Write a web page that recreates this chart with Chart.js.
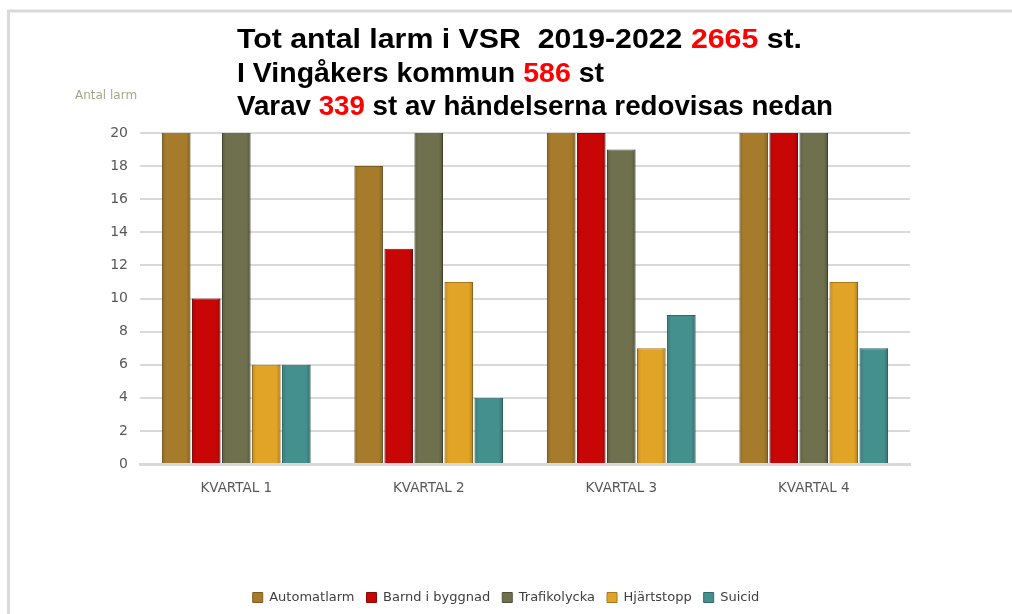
<!DOCTYPE html>
<html>
<head>
<meta charset="utf-8">
<script src="https://cdn.jsdelivr.net/npm/chart.js@4"></script>
<style>
  body { margin: 0; background: #fff; }
  #wrap { width: 1012px; height: 614px; }
</style>
</head>
<body>
<div id="wrap"><canvas id="larmChart"></canvas></div>
<script>
// Kvartal och serier (staplar över 20 är avklippta i originalet, värdena uppskattade)
const kvartal = ['KVARTAL 1', 'KVARTAL 2', 'KVARTAL 3', 'KVARTAL 4'];
const automatlarm = [30, 18, 27, 31];
const brand = [10, 13, 20, 28];
const trafikolycka = [26, 28, 19, 28];
const hjartstopp = [6, 11, 7, 11];
const suicid = [6, 4, 9, 7];
const yTicks = [0, 2, 4, 6, 8, 10, 12, 14, 16, 18, 20];

const titleLines = [
  [['Tot antal larm i VSR  2019-2022 ', '#000'], ['2665', '#ff0000'], [' st.', '#000']],
  [['I Vingåkers kommun ', '#000'], ['586', '#ff0000'], [' st', '#000']],
  [['Varav ', '#000'], ['339', '#ff0000'], [' st av händelserna redovisas nedan', '#000']]
];

const frameAndTitle = {
  id: 'frameAndTitle',
  beforeDraw(chart) {
    const c = chart.ctx;
    c.save();
    c.strokeStyle = '#d9d9d9';
    c.lineWidth = 3;
    c.beginPath();
    c.moveTo(8.5, 614);
    c.lineTo(8.5, 11);
    c.lineTo(1012, 11);
    c.stroke();
    c.restore();
  },
  afterDraw(chart) {
    const c = chart.ctx;
    c.save();
    c.font = "bold 27px 'Liberation Sans', Arial, sans-serif";
    c.textBaseline = 'alphabetic';
    // radbredder i originalet
    const widths = [565, 367, 596];
    const baselines = [48, 82, 115];
    titleLines.forEach((parts, i) => {
      const full = parts.map(p => p[0]).join('');
      const sx = widths[i] / c.measureText(full).width;
      let x = 0;
      c.save();
      c.translate(237, baselines[i]);
      c.scale(sx, 1);
      parts.forEach(([txt, col]) => {
        c.fillStyle = col;
        c.fillText(txt, x, 0);
        x += c.measureText(txt).width;
      });
      c.restore();
    });
    c.font = "12px 'DejaVu Sans', sans-serif";
    c.fillStyle = '#a6a88b';
    c.fillText('Antal larm', 75, 99);
    c.restore();
  },
  afterDatasetsDraw(chart) {
    // lite skuggning på staplarna
    const c = chart.ctx;
    const area = chart.chartArea;
    c.save();
    c.beginPath();
    c.rect(area.left, area.top, area.right - area.left, area.bottom - area.top);
    c.clip();
    chart.data.datasets.forEach((ds, i) => {
      chart.getDatasetMeta(i).data.forEach(bar => {
        const l = bar.x - bar.width / 2;
        const g = c.createLinearGradient(l, 0, l + bar.width, 0);
        g.addColorStop(0, 'rgba(0,0,0,0.15)');
        g.addColorStop(0.15, 'rgba(0,0,0,0)');
        g.addColorStop(0.85, 'rgba(0,0,0,0)');
        g.addColorStop(1, 'rgba(0,0,0,0.22)');
        c.fillStyle = g;
        c.fillRect(l, bar.y, bar.width, bar.base - bar.y);
      });
    });
    c.restore();
  }
};

function serie(label, data, color, border) {
  return {
    label: label,
    data: data,
    backgroundColor: color,
    borderColor: border,
    borderWidth: 1,
    categoryPercentage: 0.78,
    barPercentage: 0.95
  };
}

const ctx = document.getElementById('larmChart').getContext('2d');
new Chart(ctx, {
  type: 'bar',
  data: {
    labels: kvartal,
    datasets: [
      serie('Automatlarm', automatlarm, '#a67c2c', '#7d5e20'),
      serie('Barnd i byggnad', brand, '#c80606', '#8e0606'),
      serie('Trafikolycka', trafikolycka, '#6e704e', '#4f5038'),
      serie('Hjärtstopp', hjartstopp, '#e2a426', '#a9781a'),
      serie('Suicid', suicid, '#43908e', '#2f6a68')
    ]
  },
  plugins: [frameAndTitle],
  options: {
    responsive: true,
    maintainAspectRatio: false,
    animation: false,
    layout: {
      padding: { top: 133, right: 0, bottom: 0, left: 0 }
    },
    plugins: {
      title: { display: false },
      tooltip: { enabled: false },
      legend: {
        position: 'bottom',
        labels: {
          boxWidth: 10,
          boxHeight: 10,
          padding: 12,
          color: '#404040',
          font: { family: "'DejaVu Sans', sans-serif", size: 13 }
        }
      }
    },
    scales: {
      x: {
        grid: { display: false },
        border: { color: '#d9d9d9', width: 3 },
        ticks: {
          color: '#595959',
          padding: 8,
          font: { family: "'DejaVu Sans', sans-serif", size: 13.5 }
        },
        afterFit(scale) { scale.height = 115; }
      },
      y: {
        min: 0,
        max: 20,
        afterBuildTicks(scale) { scale.ticks = yTicks.map(v => ({ value: v })); },
        grid: { color: '#d9d9d9', lineWidth: 2, drawTicks: false },
        border: { display: false },
        ticks: {
          color: '#595959',
          padding: 12,
          font: { family: "'DejaVu Sans', sans-serif", size: 14 }
        },
        afterFit(scale) { scale.width = 140; }
      },
      // tom axel till höger som håller plats (legenden centreras över hela bredden)
      yRight: {
        position: 'right',
        display: true,
        min: 0,
        max: 20,
        grid: { display: false },
        border: { display: false },
        ticks: { display: false },
        afterFit(scale) { scale.width = 102; }
      }
    }
  }
});
</script>
</body>
</html>
